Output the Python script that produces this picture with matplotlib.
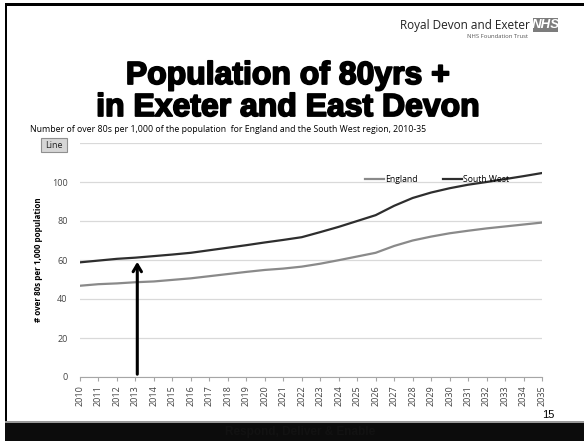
import matplotlib

matplotlib.use("Agg")
import matplotlib.pyplot as plt
import matplotlib.patheffects as pe
from matplotlib.patches import Rectangle, FancyBboxPatch

# Over-80s per 1,000 population, 2010-35
years = list(range(2010, 2036))
england = [46.8, 47.6, 48.0, 48.6, 49.0, 49.8, 50.6, 51.7, 52.8, 53.9,
           54.9, 55.6, 56.6, 58.1, 59.9, 61.8, 63.7, 67.2, 70.0, 72.0,
           73.7, 75.0, 76.2, 77.2, 78.2, 79.2]
south_west = [58.8, 59.7, 60.6, 61.2, 62.0, 62.8, 63.7, 65.0, 66.3, 67.6,
              69.0, 70.3, 71.7, 74.3, 77.0, 80.0, 83.0, 87.8, 91.8, 94.6,
              96.8, 98.6, 100.0, 101.5, 103.0, 104.6]
arrow_year = 2013.1
arrow_top = 60.5

W, H = 584, 441
fig = plt.figure(figsize=(W / 100, H / 100), dpi=100, facecolor="white")


def fx(px):
    return px / W


def fy(py):
    return 1 - py / H


# slide frame
fig.add_artist(Rectangle((fx(5), fy(441)), fx(2), fy(3) - fy(441),
                         transform=fig.transFigure, color="black", lw=0))
fig.add_artist(Rectangle((fx(5), fy(6)), 1, fy(3) - fy(6),
                         transform=fig.transFigure, color="black", lw=0))
fig.add_artist(Rectangle((fx(5), 0), 1, fy(422), transform=fig.transFigure,
                         color="#0c0c0c", lw=0))
fig.add_artist(Rectangle((fx(5), fy(423)), 1, fy(421) - fy(423),
                         transform=fig.transFigure, color="#9a9a9a", lw=0))
fig.text(fx(300), fy(432), "Respond, Deliver & Enable", ha="center", va="center",
         fontsize=8.5, fontweight="bold", color="#121212",
         family="Liberation Sans")

# logo block
fig.text(fx(530), fy(25), "Royal Devon and Exeter", ha="right", va="center",
         fontsize=8.5, color="#222222", family="Open Sans")
fig.add_artist(Rectangle((fx(533), fy(32)), fx(25), fy(18) - fy(32),
                         transform=fig.transFigure, color="#7c7c7c", lw=0))
fig.text(fx(545.5), fy(25.5), "NHS", ha="center", va="center", fontsize=9.5,
         fontweight="bold", style="italic", color="white",
         family="Liberation Sans")
fig.text(fx(528), fy(37), "NHS Foundation Trust", ha="right", va="center",
         fontsize=4.2, color="#555555", family="Open Sans")

# headline, stroked to get a heavier face
heavy = [pe.withStroke(linewidth=1.3, foreground="black")]
fig.text(fx(288), fy(76), "Population of 80yrs +", ha="center", va="center",
         fontsize=23, fontweight="heavy", color="black",
         family="Liberation Sans", path_effects=heavy)
fig.text(fx(288), fy(108), "in Exeter and East Devon", ha="center", va="center",
         fontsize=23, fontweight="heavy", color="black",
         family="Liberation Sans", path_effects=heavy)

fig.text(fx(30), fy(130), "Number of over 80s per 1,000 of the population  for "
         "England and the South West region, 2010-35", ha="left", va="center",
         fontsize=6.3, color="black", family="Open Sans")

# chart
ax = fig.add_axes([fx(80), fy(377), fx(542) - fx(80), fy(143) - fy(377)])
ax.set_xlim(2010, 2035)
ax.set_ylim(0, 120)
ax.set_yticks([0, 20, 40, 60, 80, 100, 120])
ax.set_yticklabels(["0", "20", "40", "60", "80", "100", ""])
ax.set_xticks(years)
ax.set_xticklabels([str(y) for y in years], rotation=90)
ax.grid(axis="y", color="#d9d9d9", lw=0.9)
ax.set_axisbelow(True)
for s in ["top", "right", "left"]:
    ax.spines[s].set_visible(False)
ax.spines["bottom"].set_color("#a6a6a6")
ax.tick_params(axis="y", length=0, labelsize=6.5, colors="#444444", pad=9)
ax.tick_params(axis="x", length=3, color="#a6a6a6", labelsize=6.5,
               colors="#444444", pad=3)
for lab in ax.get_xticklabels() + ax.get_yticklabels():
    lab.set_family("Open Sans")

ax.plot(years, england, color="#8a8a8a", lw=1.6, label="England")
ax.plot(years, south_west, color="#2e2e2e", lw=1.6, label="South West")
ax.set_ylabel("# over 80s per 1,000 population", fontsize=5.8,
              fontweight="bold", family="Open Sans", labelpad=6)
ax.legend(loc="upper left", bbox_to_anchor=(0.60, 0.895), ncol=2, frameon=False,
          handlelength=2.2, handletextpad=0.1, columnspacing=3.0,
          prop={"family": "Open Sans", "size": 6.2})

ax.annotate("", xy=(arrow_year, arrow_top), xytext=(arrow_year, 0),
            arrowprops=dict(arrowstyle="->,head_length=0.5,head_width=0.3",
                            color="black", lw=2.2))

# "Line" chart-type button
fig.add_artist(FancyBboxPatch((fx(41), fy(152)), fx(26), fy(138) - fy(152),
                              boxstyle="square,pad=0", transform=fig.transFigure,
                              facecolor="#d6d6d6", edgecolor="#8f8f8f", lw=0.8))
fig.text(fx(54), fy(145), "Line", ha="center", va="center", fontsize=6.5,
         color="#222222", family="Open Sans")

fig.text(fx(548), fy(415), "15", ha="center", va="center", fontsize=8,
         color="black", family="Liberation Sans")

fig.savefig("out.png", dpi=100)
